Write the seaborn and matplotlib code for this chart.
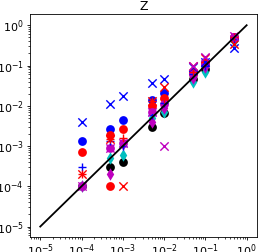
import numpy as np
import pandas as pd
import matplotlib
matplotlib.use("Agg")
import matplotlib.pyplot as plt
import matplotlib.ticker as mticker
import seaborn as sns

# valori (x comune a tutte le serie)
x_vals = [1e-4, 5e-4, 1e-3, 5e-3, 1e-2, 5e-2, 1e-1, 5e-1]

blue_o = [1.3e-3, 2.6e-3, 4.5e-3, 1.4e-2, 2.1e-2, 7e-2, 1.2e-1, 0.5]
red_o = [7e-4, 1.9e-3, 2.6e-3, 1.0e-2, 1.6e-2, 6e-2, 1.1e-1, 0.5]
red_o_low = [np.nan, 1e-4, np.nan, np.nan, np.nan, np.nan, np.nan, np.nan]
black_o = [1e-4, 3e-4, 4e-4, 3e-3, 6.5e-3, 4.5e-2, 8e-2, 0.45]
magenta_o = [1e-4, 9e-4, 1.2e-3, 7e-3, 1.1e-2, 6e-2, 1.1e-1, 0.5]
cyan_d = [1e-4, 5e-4, 6e-4, 5e-3, 7e-3, 3.8e-2, 7e-2, 0.4]
magenta_d = [1e-4, 2e-4, 1.1e-3, 4e-3, 9e-3, 5e-2, 9e-2, 0.45]
blue_x = [4e-3, 1.1e-2, 1.7e-2, 3.6e-2, 4.5e-2, 9e-2, 1.2e-1, 2.7e-1]
red_x = [2e-4, 1.5e-3, 1e-4, 1.3e-2, 3e-2, 1e-1, 1.5e-1, 3.5e-1]
magenta_x = [1e-4, 9e-4, 1.2e-3, 7e-3, 1e-3, 1e-1, 1.6e-1, 0.55]
blue_plus = [3e-4, 1.3e-3, 1e-3, 6e-3, 1.2e-2, 6e-2, 1e-1, 0.45]
red_plus = [2e-4, 1.5e-3, 1.6e-3, 1.3e-2, 1.5e-2, 7e-2, 1.2e-1, 0.5]

ref_x = [1e-5, 1.0]
ref_y = [1e-5, 1.0]

series = [
    (blue_o, 'blue', 'o'),
    (red_o, 'red', 'o'),
    (red_o_low, 'red', 'o'),
    (black_o, 'black', 'o'),
    (magenta_o, 'm', 'o'),
    (cyan_d, 'c', 'd'),
    (magenta_d, 'm', 'd'),
    (blue_plus, 'blue', '+'),
    (red_plus, 'red', '+'),
    (blue_x, 'blue', 'x'),
    (red_x, 'red', 'x'),
    (magenta_x, 'm', 'x'),
]

fig = plt.figure(figsize=(2.58, 2.52), dpi=100)
ax = fig.add_axes([0.116, 0.061, 0.88, 0.882])

for vals, col, mk in series:
    df = pd.DataFrame({'x': x_vals, 'y': vals}).dropna()
    if mk in ('x', '+'):
        sns.scatterplot(data=df, x='x', y='y', marker=mk, color=col, s=36, linewidth=1, ax=ax)
    else:
        sns.scatterplot(data=df, x='x', y='y', marker=mk, color=col, s=40, linewidth=0, ax=ax)

sns.lineplot(x=ref_x, y=ref_y, color='black', linewidth=1.3, ax=ax)

ax.set_xscale('log')
ax.set_yscale('log')
ax.set_xlim(10 ** -5.25, 10 ** 0.25)
ax.set_ylim(10 ** -5.25, 10 ** 0.27)
for axis in (ax.xaxis, ax.yaxis):
    axis.set_major_locator(mticker.LogLocator(base=10, numticks=12))
    axis.set_minor_locator(mticker.LogLocator(base=10, subs=np.arange(2, 10), numticks=12))
    axis.set_minor_formatter(mticker.NullFormatter())
ax.tick_params(which='major', labelsize=8, length=2.5, width=0.6, pad=2)
ax.tick_params(which='minor', length=1.5, width=0.5)
for sp in ax.spines.values():
    sp.set_linewidth(0.6)
ax.set_xlabel('')
ax.set_ylabel('')
ax.set_title('Z', fontsize=9, pad=3)

fig.savefig('out.png', dpi=100)
